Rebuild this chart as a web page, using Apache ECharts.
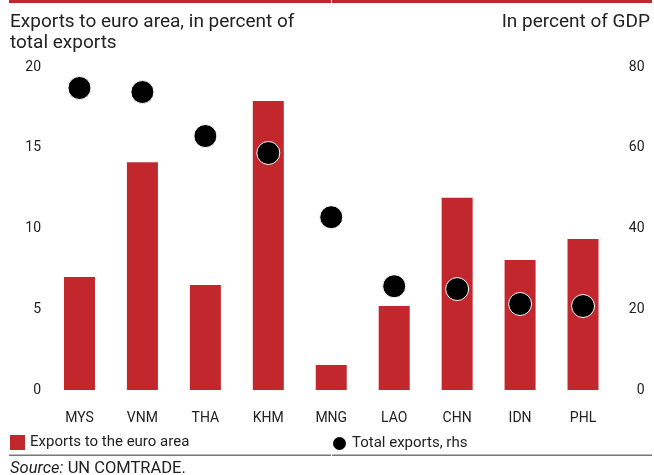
<!DOCTYPE html>
<html>
<head>
<meta charset="utf-8">
<style>
  html, body { margin: 0; padding: 0; background: #fff; }
  #chart { width: 654px; height: 475px; }
</style>
<script src="https://cdn.jsdelivr.net/npm/echarts@6/dist/echarts.min.js"></script>
</head>
<body>
<div id="chart"></div>
<script>
// Country codes along the x axis
const categories = ['MYS', 'VNM', 'THA', 'KHM', 'MNG', 'LAO', 'CHN', 'IDN', 'PHL'];
// Exports to the euro area, percent of total exports (left axis)
const euroShare = [7.0, 14.1, 6.5, 17.9, 1.55, 5.2, 11.9, 8.05, 9.35];
// Total exports, percent of GDP (right axis)
const totalExports = [74.8, 73.8, 62.9, 58.7, 42.8, 25.7, 25.0, 21.3, 20.8];
// Axis tick values
const leftTicks = [0, 5, 10, 15, 20];
const rightTicks = [0, 20, 40, 60, 80];

const FONT = 'Roboto, "Liberation Sans", sans-serif';
const RED = '#c1272d';
const TXT = '#222';

const chart = echarts.init(document.getElementById('chart'), null, { renderer: 'canvas' });

chart.setOption({
  animation: false,
  textStyle: { fontFamily: FONT },
  grid: { left: 48, right: 39.5, top: 67, bottom: 85, containLabel: false },
  xAxis: {
    type: 'category',
    data: categories,
    axisLine: { show: false },
    axisTick: { show: false },
    axisLabel: { color: TXT, fontSize: 14, fontFamily: FONT, margin: 21 }
  },
  yAxis: [
    {
      type: 'value', min: leftTicks[0], max: leftTicks[leftTicks.length - 1], interval: 5,
      splitLine: { show: false }, axisLine: { show: false }, axisTick: { show: false },
      axisLabel: { color: TXT, fontSize: 14, fontFamily: FONT, margin: 7 }
    },
    {
      type: 'value', min: rightTicks[0], max: rightTicks[rightTicks.length - 1], interval: 20,
      position: 'right',
      splitLine: { show: false }, axisLine: { show: false }, axisTick: { show: false },
      axisLabel: { color: TXT, fontSize: 14, fontFamily: FONT, margin: 30, align: 'right' }
    }
  ],
  legend: [
    {
      data: [{ name: 'Exports to the euro area', icon: 'rect' }],
      left: 10, top: 435, itemWidth: 15, itemHeight: 15, padding: 0,
      textStyle: { color: TXT, fontSize: 15, fontFamily: FONT }
    },
    {
      data: [{ name: 'Total exports, rhs', icon: 'circle' }],
      left: 331, top: 435, itemWidth: 15, itemHeight: 15, padding: 0,
      textStyle: { color: TXT, fontSize: 15, fontFamily: FONT }
    }
  ],
  series: [
    {
      name: 'Exports to the euro area',
      type: 'bar',
      yAxisIndex: 0,
      data: euroShare,
      barWidth: 31,
      itemStyle: { color: RED }
    },
    {
      name: 'Total exports, rhs',
      type: 'scatter',
      yAxisIndex: 1,
      data: totalExports,
      symbol: 'circle',
      symbolSize: 23,
      itemStyle: { color: '#000', borderColor: '#fff', borderWidth: 1, opacity: 1 },
      z: 5
    }
  ],
  graphic: [
    // top rule, split in two halves
    { type: 'rect', shape: { x: 9, y: 0, width: 322, height: 3 }, style: { fill: RED } },
    { type: 'rect', shape: { x: 332, y: 0, width: 320, height: 3 }, style: { fill: RED } },
    // axis titles
    { type: 'text', x: 10, y: 22.5, style: { text: 'Exports to euro area, in percent of', fill: TXT, font: '19px ' + FONT, verticalAlign: 'middle' } },
    { type: 'text', x: 10, y: 43, style: { text: 'total exports', fill: TXT, font: '19px ' + FONT, verticalAlign: 'middle' } },
    { type: 'text', x: 650, y: 22.5, style: { text: 'In percent of GDP', fill: TXT, font: '19px ' + FONT, align: 'right', verticalAlign: 'middle' } },
    // bottom rule above the source note
    { type: 'rect', shape: { x: 9, y: 454.5, width: 322, height: 1.5 }, style: { fill: '#777' } },
    { type: 'rect', shape: { x: 332, y: 454.5, width: 320, height: 1.5 }, style: { fill: '#777' } },
    {
      type: 'text', x: 10, y: 468.5,
      style: {
        text: '{i|Source:} UN COMTRADE.',
        fill: TXT, font: '16.5px ' + FONT, verticalAlign: 'middle',
        rich: { i: { fontStyle: 'italic', fontFamily: FONT, fontSize: 16.5, fill: TXT } }
      }
    }
  ]
});
</script>
</body>
</html>
